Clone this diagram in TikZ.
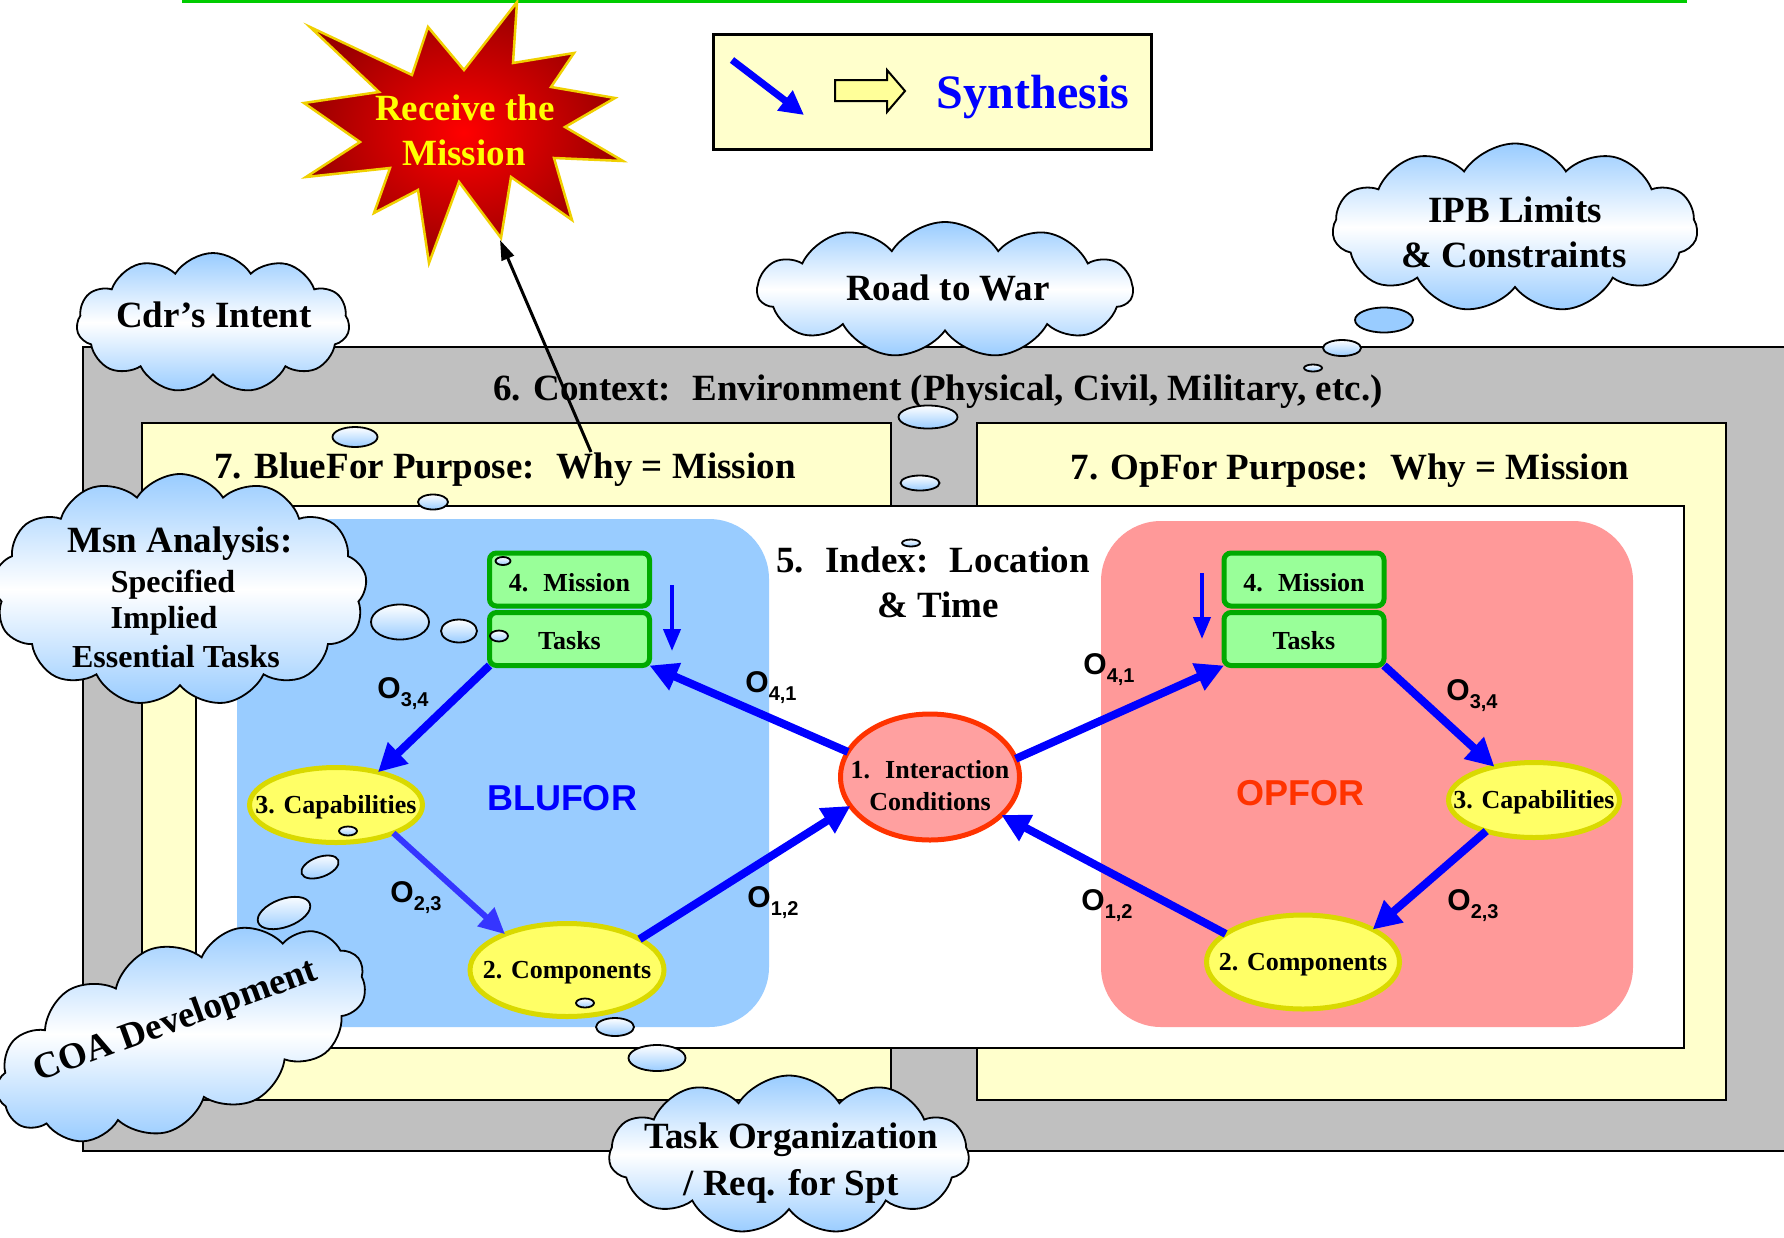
\documentclass[tikz,border=0pt]{standalone}
\usepackage{fontspec}
\setmainfont{Liberation Serif}
\setsansfont{Liberation Sans}
\usetikzlibrary{shapes.symbols,shapes.geometric,arrows.meta}

\definecolor{frameGray}{HTML}{C0C0C0}
\definecolor{paleYellow}{HTML}{FFFFCC}
\definecolor{bluePanel}{HTML}{99CCFF}
\definecolor{redPanel}{HTML}{FF9999}
\definecolor{taskGreen}{HTML}{99FF99}
\definecolor{taskEdge}{HTML}{00AA00}
\definecolor{capFill}{HTML}{FFFF66}
\definecolor{capEdge}{HTML}{D9D900}
\definecolor{icEdge}{HTML}{FF3300}
\definecolor{icFill}{HTML}{FFA0A0}
\definecolor{cloudBlue}{HTML}{99CCFF}
\definecolor{flowBlue}{HTML}{0000FF}
\definecolor{softBlue}{HTML}{3535FF}
\definecolor{burstRed}{HTML}{FF0000}
\definecolor{burstDark}{HTML}{990000}
\definecolor{burstEdge}{HTML}{F0D000}
\definecolor{burstText}{HTML}{FFFF00}
\definecolor{ruleGreen}{HTML}{00CC00}
\definecolor{opforRed}{HTML}{FF3300}
\definecolor{blockYellow}{HTML}{FFFF99}

% operator label: O with a lowered index pair
\newcommand\opsub[1]{O\raisebox{-8pt}{\fontsize{20}{24}\selectfont #1}}

\tikzset{
  txtbig/.style={font=\bfseries\fontsize{37}{44}\selectfont},
  txtmid/.style={font=\bfseries\fontsize{32}{38}\selectfont},
  txtsmall/.style={font=\bfseries\fontsize{26}{32}\selectfont},
  olab/.style={font=\sffamily\bfseries\fontsize{30}{36}\selectfont},
  forcelbl/.style={font=\sffamily\bfseries\fontsize{36}{42}\selectfont},
  panel/.style={draw=black, line width=2},
  thought/.style={cloud, cloud puffs=11, cloud puff arc=115, cloud ignores aspect,
    draw=black, line width=1.8, top color=cloudBlue, bottom color=cloudBlue,
    middle color=white, inner sep=0pt},
  bubble/.style={ellipse, draw=black, line width=1.8, top color=white,
    bottom color=cloudBlue, inner sep=0pt},
  taskbox/.style={rectangle, rounded corners=7, draw=taskEdge, line width=5,
    fill=taskGreen, minimum width=160, minimum height=53, inner sep=0pt,
    text height=20pt, text depth=0pt, txtsmall},
  capnode/.style={ellipse, draw=capEdge, line width=5, fill=capFill, inner sep=0pt,
    text height=17pt, text depth=0pt, txtsmall},
  icnode/.style={ellipse, draw=icEdge, line width=5, fill=icFill, inner sep=0pt,
    text height=0pt, text depth=0pt, txtsmall},
  flow/.style={draw=flowBlue, line width=8, -{Triangle[length=28pt,width=28pt]}},
  flowsoft/.style={draw=softBlue, line width=6, -{Triangle[length=26pt,width=24pt]}},
  drop/.style={draw=flowBlue, line width=4, -{Triangle[length=22pt,width=17pt]}},
}

\begin{document}
\begin{tikzpicture}[x=1pt, y=-1pt, every node/.style={outer sep=0pt}]
\clip (0,0) rectangle (1784,1237);
\fill[white] (0,0) rectangle (1784,1237);

% top rule
\draw[ruleGreen, line width=3] (182,1.5) -- (1687,1.5);

% context frame, purpose panels, index area
\draw[panel, fill=frameGray] (83,347) rectangle (1810,1151);
\draw[panel, fill=paleYellow] (142,423) rectangle (891,1100);
\draw[panel, fill=paleYellow] (977,423) rectangle (1726,1100);
\draw[panel, fill=white] (196,506) rectangle (1684,1048);
\fill[bluePanel, rounded corners=60] (237,519) rectangle (769,1027);
\fill[redPanel, rounded corners=60] (1101,521) rectangle (1633,1027);

% titles
\node[txtbig, anchor=base] (ctxT) at (938,400) {6. Context:~ Environment (Physical, Civil, Military, etc.)};
\node[txtbig, anchor=base] (blueT) at (505,478) {7. BlueFor Purpose:~ Why = Mission};
\node[txtbig, anchor=base] (redT) at (1350,479) {7. OpFor Purpose:~ Why = Mission};
\node[txtbig, anchor=base] (idx1) at (933,572) {5.~ Index:~ Location};
\node[txtbig, anchor=base] (idx2) at (938,617) {\& Time};

% BLUFOR cycle
\node[taskbox, text height=24pt] (bmis) at (569.5,579.5) {4.~ Mission};
\node[taskbox] (btask) at (569.5,639) {Tasks};
\node[capnode, minimum width=173, minimum height=75] (bcap) at (336,805) {\makebox[0pt]{3. Capabilities}};
\node[capnode, minimum width=194, minimum height=93] (bcomp) at (567,970) {\makebox[0pt]{2. Components}};

% interaction
\node[icnode, minimum width=179, minimum height=126] (ic) at (930,777)
  {\makebox[0pt]{\raisebox{-17.5pt}{\begin{tabular}{@{}c@{}}1.~ Interaction\\Conditions\end{tabular}}}};

% OPFOR cycle
\node[taskbox, text height=24pt] (rmis) at (1304,579.5) {4.~ Mission};
\node[taskbox] (rtask) at (1304,639) {Tasks};
\node[capnode, minimum width=171, minimum height=75] (rcap) at (1534,800) {\makebox[0pt]{3. Capabilities}};
\node[capnode, minimum width=193, minimum height=94] (rcomp) at (1303,962) {\makebox[0pt]{2. Components}};

% flows
\draw[flow] (ic.163) -- (btask.south east);
\draw[flow] (btask.south west) -- (bcap.38);
\draw[flowsoft] (bcap.-26) -- (bcomp.150);
\draw[flow] (bcomp.23) -- (ic.200);
\draw[flow] (ic.12) -- (rtask.south west);
\draw[flow] (rtask.south east) -- (rcap.140);
\draw[flow] (rcap.213) -- (rcomp.25);
\draw[flow] (rcomp.160) -- (ic.-28);

\coordinate (bdropA) at (672,585);
\coordinate (bdropB) at (672,651);
\coordinate (rdropA) at (1202,573);
\coordinate (rdropB) at (1202,639);
\draw[drop] (bdropA) -- (bdropB);
\draw[drop] (rdropA) -- (rdropB);

% flow labels
\node[olab] (lb34) at (403,694) {\opsub{3,4}};
\node[olab] (lb41) at (771,688) {\opsub{4,1}};
\node[olab] (lb23) at (416,898) {\opsub{2,3}};
\node[olab] (lb12) at (773,903) {\opsub{1,2}};
\node[olab] (lr41) at (1109,670) {\opsub{4,1}};
\node[olab] (lr34) at (1472,696) {\opsub{3,4}};
\node[olab] (lr12) at (1107,906) {\opsub{1,2}};
\node[olab] (lr23) at (1473,906) {\opsub{2,3}};

\node[forcelbl, text=flowBlue] (bluLbl) at (562,798) {BLUFOR};
\node[forcelbl, text=opforRed] (redLbl) at (1300,793) {OPFOR};

% thought clouds
\node[thought, minimum width=273, minimum height=140] (cdr) at (213,323) {};
\node[txtbig, anchor=base] (cdrT) at (214,327) {Cdr's Intent};

\node[thought, minimum width=375, minimum height=136] (road) at (945,290) {};
\node[txtbig, anchor=base] (roadT) at (948,300) {Road to War};

\node[thought, minimum width=365, minimum height=169] (ipb) at (1515,228) {};
\node[txtbig, anchor=base] (ipbT1) at (1515,222) {IPB Limits};
\node[txtbig, anchor=base] (ipbT2) at (1514,267) {\& Constraints};

\node[thought, cloud puffs=13, minimum width=374, minimum height=232] (msn) at (180,590) {};
\node[txtbig, anchor=base] (msnT1) at (180,552) {Msn Analysis:};
\node[txtmid, anchor=base] (msnT2) at (173,592) {Specified};
\node[txtmid, anchor=base] (msnT3) at (164,628) {Implied};
\node[txtmid, anchor=base] (msnT4) at (176,667) {Essential Tasks};

\node[thought, cloud puffs=13, rotate=20, minimum width=388, minimum height=180] (coa) at (181,1034) {};
\node[txtbig, rotate=20] (coaT) at (176,1022) {COA Development};

\node[thought, minimum width=360, minimum height=159] (task) at (789,1155) {};
\node[txtbig, anchor=base] (taskT1) at (791,1148) {Task Organization};
\node[txtbig, anchor=base] (taskT2) at (791,1195) {/ Req. for Spt};

% thought bubbles
\node[bubble, minimum width=45, minimum height=20] (cb1) at (355,437) {};
\node[bubble, minimum width=30, minimum height=15] (cb2) at (433,502) {};
\node[bubble, minimum width=58, minimum height=35] (mb1) at (400,622) {};
\node[bubble, minimum width=36, minimum height=23] (mb2) at (459,631) {};
\node[bubble, minimum width=18, minimum height=11] (mb3) at (499,636) {};
\node[bubble, minimum width=15, minimum height=8] (mb4) at (503,561) {};
\node[bubble, minimum width=18, minimum height=9] (ob1) at (348,831) {};
\node[bubble, rotate=20, minimum width=39, minimum height=20] (ob2) at (320,867) {};
\node[bubble, rotate=20, minimum width=55, minimum height=28] (ob3) at (284,913) {};
\node[bubble, minimum width=18, minimum height=9] (tb1) at (585,1003) {};
\node[bubble, minimum width=38, minimum height=18] (tb2) at (615,1027) {};
\node[bubble, minimum width=57, minimum height=26] (tb3) at (657,1058) {};
\node[bubble, minimum width=59, minimum height=23] (rb1) at (928,417) {};
\node[bubble, minimum width=39, minimum height=15] (rb2) at (920,483) {};
\node[bubble, minimum width=18, minimum height=7] (rb3) at (911,543) {};
\node[bubble, top color=cloudBlue, minimum width=58, minimum height=25] (ib1) at (1384,320) {};
\node[bubble, minimum width=38, minimum height=16] (ib2) at (1342,348) {};
\node[bubble, minimum width=18, minimum height=7] (ib3) at (1313,368) {};

% received mission burst
\draw[draw=burstEdge, line width=2.5, inner color=burstRed, outer color=burstDark]
  (517,2) -- (513,63) -- (574,53) -- (551,87) -- (615,98) -- (565,127) -- (623,161)
  -- (554,158) -- (572,220) -- (511,177) -- (501,238) -- (459,182) -- (429,263)
  -- (418,190) -- (374,213) -- (390,168) -- (306,177) -- (360,142) -- (304,103)
  -- (379,92) -- (310,27) -- (412,75) -- (428,27) -- (464,70) -- cycle;
\node[txtbig, text=burstText, anchor=base] (recv1) at (465,120) {Receive the};
\node[txtbig, text=burstText, anchor=base] (recv2) at (464,165) {Mission};

\coordinate (purposeTail) at (591,452);
\coordinate (burstTip) at (500,240);
\draw[line width=3, -{Triangle[length=20pt,width=13pt]}] (purposeTail) -- (burstTip);

% synthesis legend
\node[draw=black, line width=3, fill=paleYellow, minimum width=438, minimum height=115] (synBox) at (932.5,92) {};
\coordinate (synA) at (732,60);
\coordinate (synB) at (804,115);
\draw[draw=flowBlue, line width=7, -{Triangle[length=24pt,width=24pt]}] (synA) -- (synB);
\draw[line width=2, fill=blockYellow] (835,80) -- (887,80) -- (887,70) -- (905,91)
  -- (887,112) -- (887,101) -- (835,101) -- cycle;
\node[font=\bfseries\fontsize{48}{56}\selectfont, text=flowBlue, anchor=base] (synT) at (1033,108) {Synthesis};
\end{tikzpicture}
\end{document}
